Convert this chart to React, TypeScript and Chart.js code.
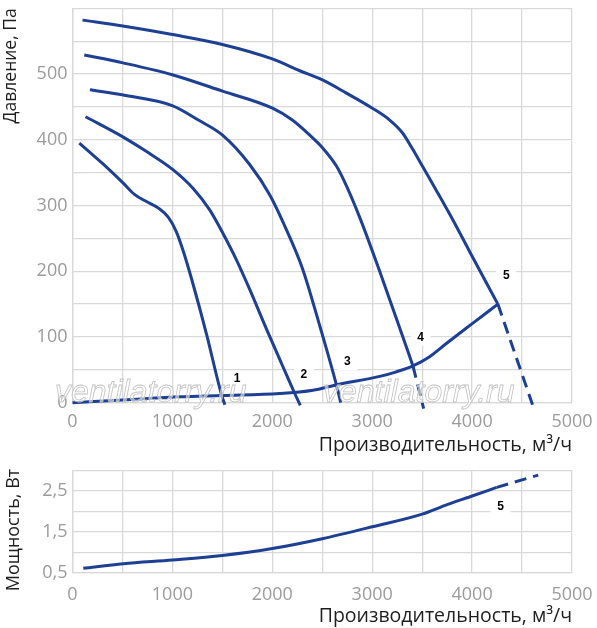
import { useEffect, useRef } from 'react';
import Chart from 'chart.js/auto';

const LINE_BLUE = '#1d3f94';
const GRID = '#d9d9d9';
const TICK_GREY = '#9b9b9b';
const TITLE_DARK = '#1e1e1e';
const FONT = '"Open Sans", "Noto Sans", sans-serif';

// pressure curves, x = м³/ч, y = Па
const curve1X = [68, 300, 508, 620, 740, 860, 960, 1040, 1110, 1200, 1342, 1492, 1525];
const curve1Y = [395, 364, 334, 317, 306, 296, 282, 260, 230, 184, 104, 12, -3];

const curve2X = [130, 508, 742, 1002, 1208, 1375, 1508, 1642, 1775, 1942, 2100, 2225, 2280];
const curve2Y = [435, 404, 382, 355, 326, 293, 257, 217, 172, 112, 57, 14, -4];

const curve3X = [175, 508, 998, 1260, 1502, 1775, 1975, 2142, 2300, 2475, 2642, 2685];
const curve3Y = [476, 468, 452, 430, 407, 362, 316, 263, 205, 117, 27, 0];

const curve4X = [118, 505, 998, 1502, 2002, 2200, 2375, 2502, 2642, 2742, 2875, 3075, 3242, 3408];
const curve4Y = [529, 517, 499, 474, 448, 430, 407, 388, 360, 330, 282, 200, 128, 56];
const curve4TailX = [3408, 3515];
const curve4TailY = [56, -9];

const curve5X = [100, 505, 1000, 1500, 2000, 2275, 2502, 2742, 3002, 3175, 3300, 3400, 3502, 3642, 3808, 3968, 4258];
const curve5Y = [582, 573, 560, 545, 523, 505, 491, 471, 448, 430, 411, 387, 360, 323, 278, 232, 150];
const curve5TailX = [4258, 4605];
const curve5TailY = [150, -3];

// network (system) curve through the operating points
const systemX = [0, 500, 1075, 1502, 2075, 2408, 2635, 3075, 3242, 3408, 3575, 3742, 4008, 4258];
const systemY = [0, 4, 9, 11, 14, 19, 27, 40, 47, 56, 70, 90, 121, 150];

// power curve, y = Вт
const powerX = [108, 508, 1000, 1500, 2000, 2500, 3000, 3500, 3750, 4000, 4245];
const powerY = [0.607, 0.72, 0.81, 0.92, 1.09, 1.33, 1.62, 1.93, 2.16, 2.37, 2.58];
const powerTailX = [4245, 4662];
const powerTailY = [2.58, 2.88];

// tick labels
const pressureTickValues = [0, 100, 200, 300, 400, 500];
const flowTickValues = [0, 1000, 2000, 3000, 4000, 5000];
const powerTickValues = [0.5, 1.5, 2.5];
const powerTickLabels = ['0,5', '1,5', '2,5'];

// curve numbers
const numberLabels = ['1', '2', '3', '4', '5'];
const numberLabelX = [1648, 2315, 2752, 3485, 4342];
const numberLabelY = [36, 43, 62, 99, 193];
const powerNumberLabels = ['5'];
const powerNumberX = [4285];
const powerNumberY = [2.11];

const pts = (xs: number[], ys: number[]) => xs.map((x, i) => ({ x, y: ys[i] }));

const curve = (xs: number[], ys: number[], dashed = false) => ({
  data: pts(xs, ys),
  borderColor: LINE_BLUE,
  borderWidth: 3,
  pointRadius: 0,
  fill: false,
  cubicInterpolationMode: 'monotone' as const,
  borderDash: dashed ? [12, 7] : [],
  clip: false as const,
});

const numberPlugin = (names: string[], xs: number[], ys: number[]) => ({
  id: 'numbers',
  beforeDatasetsDraw(chart: any) {
    const { ctx, scales } = chart;
    ctx.save();
    ctx.font = 'bold 12px "Liberation Sans", Arial, sans-serif';
    ctx.textAlign = 'center';
    ctx.textBaseline = 'middle';
    names.forEach((t, i) => {
      const px = scales.x.getPixelForValue(xs[i]);
      const py = scales.y.getPixelForValue(ys[i]);
      ctx.fillStyle = '#fff';
      ctx.fillRect(px - 10, py - 8, 20, 16);
      ctx.fillStyle = '#000';
      ctx.fillText(t, px, py);
    });
    ctx.restore();
  },
});

const watermarkPlugin = {
  id: 'watermark',
  afterDatasetsDraw(chart: any) {
    const { ctx } = chart;
    ctx.save();
    ctx.font = 'italic 32px "Liberation Sans", Arial, sans-serif';
    ctx.textBaseline = 'alphabetic';
    ctx.lineWidth = 0.8;
    ctx.strokeStyle = '#c2c2c2';
    ctx.fillStyle = 'rgba(255,255,255,0.55)';
    [55, 323].forEach((x) => {
      ctx.fillText('ventilatorry.ru', x, 402);
      ctx.strokeText('ventilatorry.ru', x, 402);
    });
    ctx.restore();
  },
};

const powerTitlePlugin = {
  id: 'powerTitle',
  afterDraw(chart: any) {
    const { ctx } = chart;
    ctx.save();
    ctx.translate(14, 70);
    ctx.rotate(-Math.PI / 2);
    ctx.font = `18px ${FONT}`;
    ctx.fillStyle = TITLE_DARK;
    ctx.textAlign = 'center';
    ctx.textBaseline = 'middle';
    ctx.fillText('Мощность, Вт', 0, 0);
    ctx.restore();
  },
};

const flowAxis = (tickPadding: number, axisHeight: number, titleBottom: number) => ({
  type: 'linear' as const,
  min: 0,
  max: 5000,
  ticks: {
    stepSize: 500,
    autoSkip: false,
    maxRotation: 0,
    padding: tickPadding,
    color: TICK_GREY,
    font: { family: FONT, size: 18 },
    callback: (v: any) => (flowTickValues.includes(v) ? String(v) : ''),
  },
  grid: { color: GRID, lineWidth: 1.3, drawTicks: false },
  border: { color: GRID, width: 1.3 },
  title: {
    display: true,
    text: 'Производительность, м³/ч',
    align: 'end' as const,
    color: TITLE_DARK,
    font: { family: FONT, size: 19.5 },
    padding: { top: 0, bottom: titleBottom },
  },
  afterFit: (s: any) => {
    s.height = axisHeight;
    s.paddingLeft = 0;
    s.paddingRight = 0;
  },
});

export default function App() {
  const pressureRef = useRef<HTMLCanvasElement | null>(null);
  const powerRef = useRef<HTMLCanvasElement | null>(null);

  useEffect(() => {
    if (!pressureRef.current || !powerRef.current) return;

    const pressureChart = new Chart(pressureRef.current, {
      type: 'line',
      data: {
        datasets: [
          curve(curve1X, curve1Y),
          curve(curve2X, curve2Y),
          curve(curve3X, curve3Y),
          curve(curve4X, curve4Y),
          curve(curve4TailX, curve4TailY, true),
          curve(curve5X, curve5Y),
          curve(curve5TailX, curve5TailY, true),
          curve(systemX, systemY),
        ] as any,
      },
      options: {
        animation: false,
        responsive: false,
        layout: { padding: { top: 8.3, right: 25, left: 0, bottom: 0 } },
        plugins: { legend: { display: false }, tooltip: { enabled: false } },
        scales: {
          x: flowAxis(8, 57.3, 3),
          y: {
            min: 0,
            max: 600,
            ticks: {
              stepSize: 50,
              autoSkip: false,
              padding: 5,
              color: TICK_GREY,
              font: { family: FONT, size: 18 },
              callback: (v: any) => (pressureTickValues.includes(v) ? String(v) : ''),
            },
            grid: { color: GRID, lineWidth: 1.3, drawTicks: false },
            border: { color: GRID, width: 1.3 },
            title: {
              display: true,
              text: 'Давление, Па',
              align: 'end',
              color: TITLE_DARK,
              font: { family: FONT, size: 17.5 },
              padding: { top: 1, bottom: 0 },
            },
            afterFit: (s: any) => {
              s.width = 72.5;
              s.paddingTop = 0;
              s.paddingBottom = 0;
            },
          },
        },
      } as any,
      plugins: [numberPlugin(numberLabels, numberLabelX, numberLabelY), watermarkPlugin],
    });

    const powerChart = new Chart(powerRef.current, {
      type: 'line',
      data: {
        datasets: [curve(powerX, powerY), curve(powerTailX, powerTailY, true)] as any,
      },
      options: {
        animation: false,
        responsive: false,
        layout: { padding: { top: 10.2, right: 25, left: 0, bottom: 0 } },
        plugins: { legend: { display: false }, tooltip: { enabled: false } },
        scales: {
          x: flowAxis(11.5, 55.3, 0),
          y: {
            min: 0.5,
            max: 3,
            ticks: {
              stepSize: 0.5,
              autoSkip: false,
              padding: 5,
              color: TICK_GREY,
              font: { family: FONT, size: 18 },
              callback: (v: any) => {
                const i = powerTickValues.findIndex((t) => Math.abs(t - v) < 1e-6);
                return i >= 0 ? powerTickLabels[i] : '';
              },
            },
            grid: { color: GRID, lineWidth: 1.3, drawTicks: false },
            border: { color: GRID, width: 1.3 },
            afterFit: (s: any) => {
              s.width = 72.5;
              s.paddingTop = 0;
              s.paddingBottom = 0;
            },
          },
        },
      } as any,
      plugins: [numberPlugin(powerNumberLabels, powerNumberX, powerNumberY), powerTitlePlugin],
    });

    return () => {
      pressureChart.destroy();
      powerChart.destroy();
    };
  }, []);

  return (
    <div style={{ position: 'absolute', left: 0, top: 0, width: 597, height: 628, background: '#fff' }}>
      <canvas
        ref={pressureRef}
        width={597}
        height={460}
        style={{ position: 'absolute', left: 0, top: 0, width: 597, height: 460 }}
      />
      <canvas
        ref={powerRef}
        width={597}
        height={168}
        style={{ position: 'absolute', left: 0, top: 460, width: 597, height: 168 }}
      />
    </div>
  );
}
